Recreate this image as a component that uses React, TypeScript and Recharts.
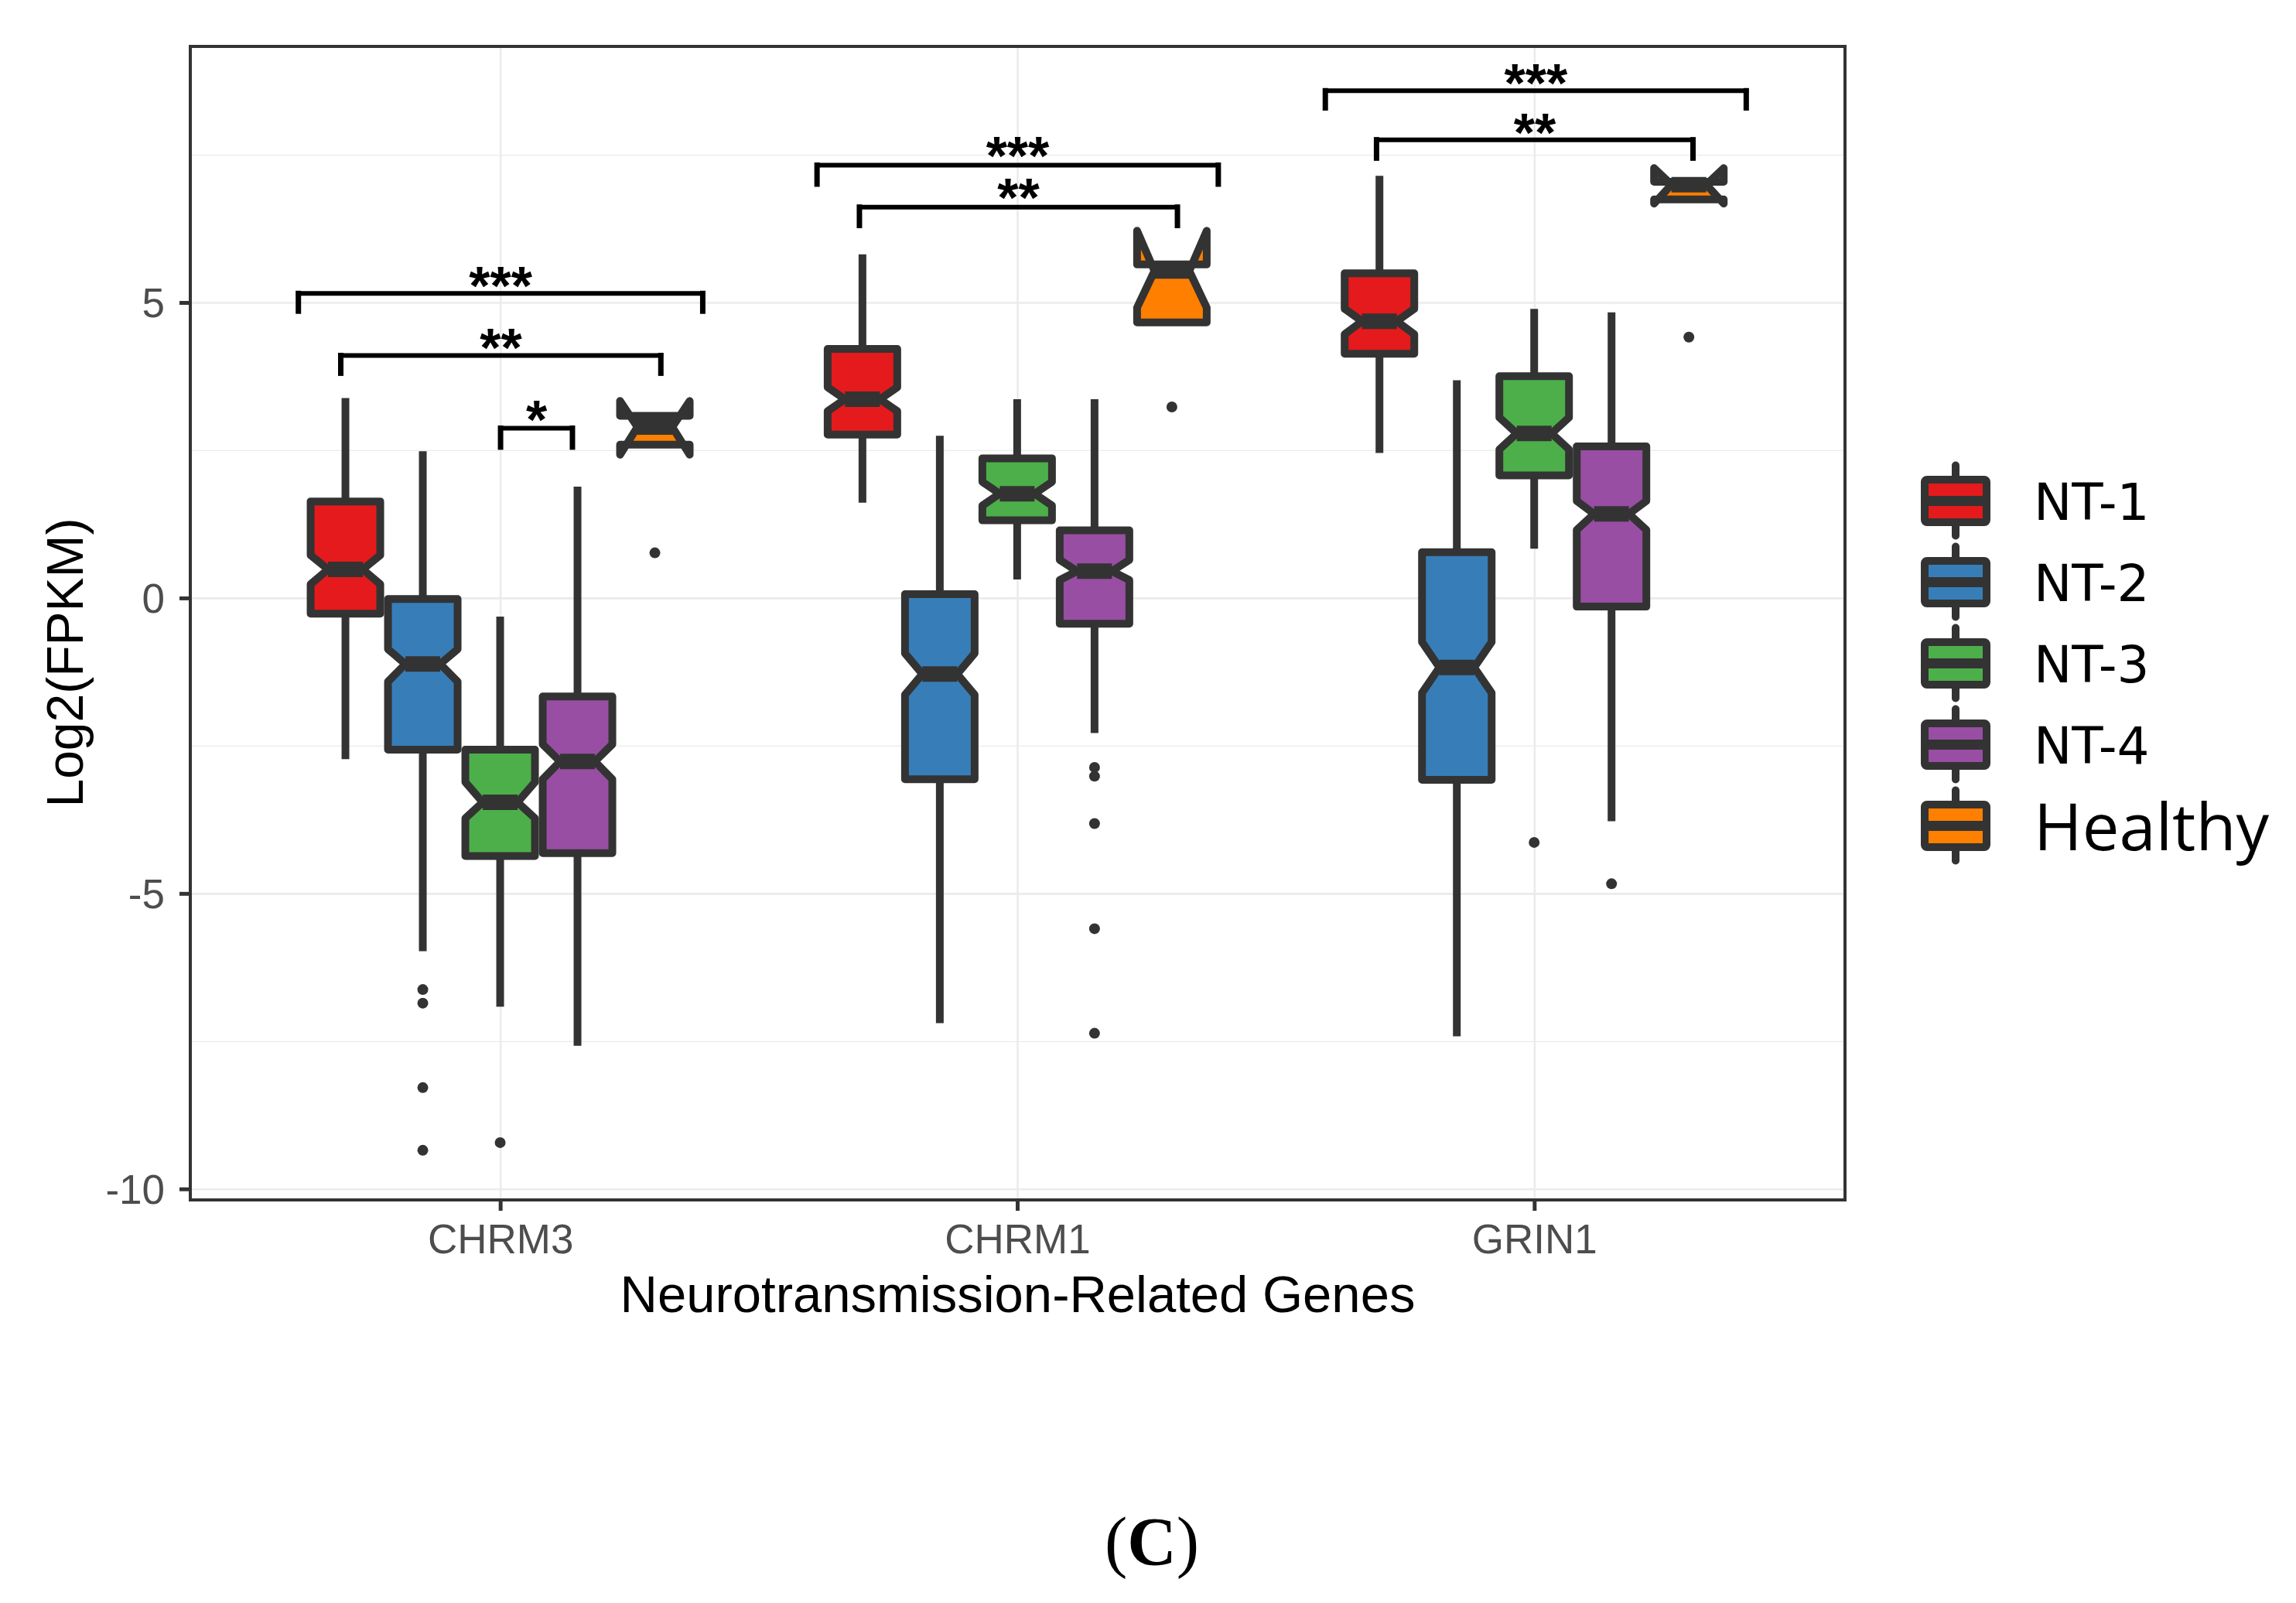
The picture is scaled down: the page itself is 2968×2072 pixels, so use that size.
import React from 'react';
import {
  ComposedChart,
  Bar,
  XAxis,
  YAxis,
  CartesianGrid,
  ReferenceLine,
  ReferenceDot,
  ReferenceArea,
  Legend,
  Label,
} from 'recharts';

// ---------------- data ----------------
const GENES = ['CHRM3', 'CHRM1', 'GRIN1'];
const GROUPS = ['NT-1', 'NT-2', 'NT-3', 'NT-4', 'Healthy'];

// per gene: [whiskerLow, q1, notchLow, median, notchHigh, q3, whiskerHigh]
const NT1_BOX = [
  [-2.72, -0.26, 0.24, 0.49, 0.73, 1.64, 3.39],
  [1.62, 2.77, 3.17, 3.37, 3.57, 4.22, 5.82],
  [2.46, 4.14, 4.47, 4.69, 4.9, 5.5, 7.15],
];
const NT2_BOX = [
  [-5.97, -2.56, -1.41, -1.11, -0.86, -0.01, 2.49],
  [-7.19, -3.06, -1.63, -1.28, -0.93, 0.07, 2.75],
  [-7.41, -3.07, -1.6, -1.17, -0.74, 0.78, 3.69],
];
const NT3_BOX = [
  [-6.91, -4.36, -3.72, -3.45, -3.11, -2.56, -0.31],
  [0.32, 1.32, 1.57, 1.77, 1.97, 2.37, 3.37],
  [0.84, 2.08, 2.52, 2.79, 3.06, 3.76, 4.9],
];
const NT4_BOX = [
  [-7.57, -4.31, -3.06, -2.76, -2.47, -1.66, 1.89],
  [-2.28, -0.43, 0.31, 0.46, 0.65, 1.15, 3.37],
  [-3.77, -0.14, 1.16, 1.43, 1.65, 2.57, 4.84],
];
const HEALTHY_BOX = [
  [2.6, 2.6, 2.43, 2.9, 3.34, 3.09, 3.09],
  [4.67, 4.67, 4.92, 5.54, 6.22, 5.65, 5.65],
  [6.75, 6.75, 6.68, 7.0, 7.28, 7.05, 7.05],
];

const NT1_OUT: number[][] = [[], [], []];
const NT2_OUT: number[][] = [[-6.62, -6.85, -8.28, -9.34], [], []];
const NT3_OUT: number[][] = [[-9.21], [], [-4.13]];
const NT4_OUT: number[][] = [[], [-2.86, -3.01, -3.81, -5.59, -7.36], [-4.83]];
const HEALTHY_OUT: number[][] = [[0.77], [3.24], [4.42]];

// significance brackets: [geneIndex, fromOffset, toOffset, lineY, tipY, labelY, label]
const BRACKETS: [number, number, number, number, number, number, string][] = [
  [0, -0.391, 0.391, 5.16, 4.86, 5.49, '***'],
  [0, -0.309, 0.31, 4.11, 3.81, 4.44, '**'],
  [0, 0.0, 0.139, 2.88, 2.56, 3.22, '*'],
  [1, -0.388, 0.388, 7.33, 7.01, 7.69, '***'],
  [1, -0.306, 0.309, 6.62, 6.31, 6.99, '**'],
  [2, -0.405, 0.409, 8.59, 8.3, 8.92, '***'],
  [2, -0.306, 0.306, 7.76, 7.45, 8.08, '**'],
];

const Y_TICKS = [-10, -5, 0, 5];
const Y_MINOR = [-7.5, -2.5, 2.5, 7.5];
const Y_DOMAIN: [number, number] = [-10.18, 9.34];
const X_DOMAIN: [number, number] = [0.4, 3.6];

const BOXES = [NT1_BOX, NT2_BOX, NT3_BOX, NT4_BOX, HEALTHY_BOX];
const OUTLIERS = [NT1_OUT, NT2_OUT, NT3_OUT, NT4_OUT, HEALTHY_OUT];

// ---------------- styles ----------------
const COLORS = ['#E41A1C', '#377EB8', '#4DAF4A', '#984EA3', '#FF7F00'];
const DARK = '#333333';
const SANS = '"Liberation Sans", Arial, sans-serif';

const data = GENES.map((gene, gi) => {
  const row: any = { gene, pos: gi + 1 };
  GROUPS.forEach((g, k) => {
    const s = BOXES[k][gi];
    const o = OUTLIERS[k][gi];
    const all = [...s, ...o];
    row[g] = [Math.min(...all), Math.max(...all)];
    row[g + '__stats'] = s;
    row[g + '__out'] = o;
  });
  return row;
});

const makeBoxShape = (group: string) => (props: any) => {
  const { x, y, width, height, index } = props;
  const row = props.payload && props.payload[group + '__stats'] ? props.payload : data[index];
  const [lo, hi] = row[group];
  const stats = row[group + '__stats'];
  const outs: number[] = row[group + '__out'];
  const top = Math.min(y, y + height);
  const bottom = Math.max(y, y + height);
  const py = (v: number) => (hi === lo ? top : bottom - ((v - lo) / (hi - lo)) * (bottom - top));
  const [wLo, q1, nLo, med, nHi, q3, wHi] = stats;
  const cx = x + width / 2;
  const bw = width * 0.45;
  const xmin = cx - bw;
  const xmax = cx + bw;
  const indent = bw * 0.5;
  const fill = COLORS[GROUPS.indexOf(group)];
  const pts = [
    [xmin, py(q3)],
    [xmin, py(nHi)],
    [xmin + indent, py(med)],
    [xmin, py(nLo)],
    [xmin, py(q1)],
    [xmax, py(q1)],
    [xmax, py(nLo)],
    [xmax - indent, py(med)],
    [xmax, py(nHi)],
    [xmax, py(q3)],
  ]
    .map((p) => p.join(','))
    .join(' ');
  return (
    <g>
      {wHi > q3 && <line x1={cx} x2={cx} y1={py(q3)} y2={py(wHi)} stroke={DARK} strokeWidth={10} />}
      {wLo < q1 && <line x1={cx} x2={cx} y1={py(q1)} y2={py(wLo)} stroke={DARK} strokeWidth={10} />}
      <polygon points={pts} fill={fill} stroke={DARK} strokeWidth={10} strokeLinejoin="round" />
      <line x1={xmin + indent} x2={xmax - indent} y1={py(med)} y2={py(med)} stroke={DARK} strokeWidth={20} />
      {outs.map((v, i) => (
        <circle key={i} cx={cx} cy={py(v)} r={7} fill={DARK} />
      ))}
    </g>
  );
};

const renderLegend = (props: any) => {
  const payload = [...(props.payload || [])].sort(
    (a: any, b: any) => GROUPS.indexOf(a.value) - GROUPS.indexOf(b.value)
  );
  return (
    <svg width={520} height={560} style={{ overflow: 'visible' }}>
      {payload.map((entry: any, i: number) => {
        const cy = 77.5 + i * 105;
        const isH = entry.value === 'Healthy';
        return (
          <g key={entry.value}>
            <line x1={68} x2={68} y1={cy - 46} y2={cy + 45} stroke={DARK} strokeWidth={10} strokeLinecap="round" />
            <rect x={28} y={cy - 27.5} width={80} height={55} rx={3} fill={entry.color} stroke={DARK} strokeWidth={10} />
            <line x1={28} x2={108} y1={cy} y2={cy} stroke={DARK} strokeWidth={13} />
            <text
              x={169}
              y={cy + (isH ? 31.5 : 24)}
              fontSize={isH ? 85 : 66}
              fontFamily={isH ? '"Open Sans", sans-serif' : '"DejaVu Sans", sans-serif'}
              fill="#000"
            >
              {entry.value}
            </text>
          </g>
        );
      })}
    </svg>
  );
};

export default function App() {
  return (
    <div style={{ position: 'absolute', left: 0, top: 0, width: 2968, height: 2072, background: '#fff' }}>
      <ComposedChart
        width={2968}
        height={2072}
        data={data}
        margin={{ top: 60, right: 583, bottom: 371, left: 0 }}
        barCategoryGap="12.5%"
        barGap={0}
      >
        <CartesianGrid stroke="#EBEBEB" strokeWidth={2.6} horizontalValues={Y_TICKS} />
        <CartesianGrid stroke="#EBEBEB" strokeWidth={1.3} vertical={false} horizontalValues={Y_MINOR} />
        <XAxis
          dataKey="gene"
          type="category"
          padding={{ left: 67, right: 67 }}
          interval={0}
          height={150}
          axisLine={false}
          tickLine={{ stroke: DARK, strokeWidth: 5 }}
          tickSize={14}
          tickMargin={17}
          tick={{ fill: '#4D4D4D', fontSize: 53, fontFamily: SANS }}
        >
          <Label
            content={(p: any) => {
              const vb = p.viewBox || {};
              return (
                <text x={vb.x + vb.width / 2} y={vb.y + 145} textAnchor="middle" fontSize={67} fontFamily={SANS} fill="#000">
                  Neurotransmission-Related Genes
                </text>
              );
            }}
          />
        </XAxis>
        <XAxis xAxisId="num" dataKey="pos" type="number" domain={X_DOMAIN} allowDataOverflow hide />
        <YAxis
          type="number"
          domain={Y_DOMAIN}
          ticks={Y_TICKS}
          allowDataOverflow
          interval={0}
          width={246}
          axisLine={false}
          tickLine={{ stroke: DARK, strokeWidth: 5 }}
          tickSize={14}
          tickMargin={19}
          tick={{ fill: '#4D4D4D', fontSize: 53, fontFamily: SANS }}
        >
          <Label
            content={(p: any) => {
              const vb = p.viewBox || {};
              const cy = vb.y + vb.height / 2 + 51;
              return (
                <text
                  transform={`translate(107, ${cy}) rotate(-90)`}
                  textAnchor="middle"
                  fontSize={66}
                  fontFamily={SANS}
                  fill="#000"
                >
                  Log2(FPKM)
                </text>
              );
            }}
          />
        </YAxis>
        {GROUPS.map((g) => (
          <Bar key={g} dataKey={g} name={g} fill={COLORS[GROUPS.indexOf(g)]} isAnimationActive={false} shape={makeBoxShape(g)} />
        ))}
        {BRACKETS.flatMap(([gi, a, b, yl, yt, ly, lab], i) => {
          const c = gi + 1;
          return [
            <ReferenceLine
              key={`h${i}`}
              xAxisId="num"
              segment={[{ x: c + a, y: yl }, { x: c + b, y: yl }]}
              stroke="#000"
              strokeWidth={6}
              strokeLinecap="square"
            />,
            <ReferenceLine
              key={`l${i}`}
              xAxisId="num"
              segment={[{ x: c + a, y: yl }, { x: c + a, y: yt }]}
              stroke="#000"
              strokeWidth={7}
              strokeLinecap="square"
            />,
            <ReferenceLine
              key={`r${i}`}
              xAxisId="num"
              segment={[{ x: c + b, y: yl }, { x: c + b, y: yt }]}
              stroke="#000"
              strokeWidth={7}
              strokeLinecap="square"
            />,
            <ReferenceDot
              key={`t${i}`}
              xAxisId="num"
              x={c + (a + b) / 2}
              y={ly}
              r={1}
              shape={(p: any) => (
                <text x={p.cx} y={p.cy + 40} textAnchor="middle" fontSize={70} fontWeight="bold" fontFamily={SANS} fill="#000">
                  {lab}
                </text>
              )}
            />,
          ];
        })}
        <ReferenceArea
          xAxisId="num"
          x1={X_DOMAIN[0]}
          x2={X_DOMAIN[1]}
          y1={Y_DOMAIN[0]}
          y2={Y_DOMAIN[1]}
          fill="none"
          fillOpacity={0}
          stroke={DARK}
          strokeWidth={4}
        />
        <Legend
          layout="vertical"
          align="center"
          verticalAlign="middle"
          wrapperStyle={{ position: 'absolute', left: 2460, top: 570, width: 520, height: 560 }}
          content={renderLegend}
        />
      </ComposedChart>
      <svg width={2968} height={2072} style={{ position: 'absolute', left: 0, top: 0, pointerEvents: 'none' }}>
        <text x={1489} y={2022} textAnchor="middle" fontSize={88} fontFamily='"Liberation Serif", "Times New Roman", serif' fill="#000">
          (<tspan fontWeight="bold">C</tspan>)
        </text>
      </svg>
    </div>
  );
}
